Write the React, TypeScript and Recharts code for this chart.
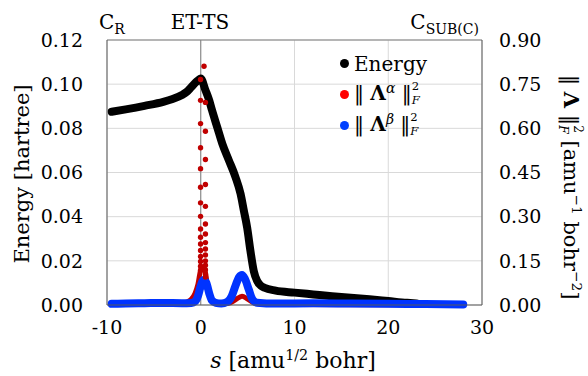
import { ComposedChart, Line, XAxis, YAxis, CartesianGrid, ReferenceLine } from 'recharts'

// energy along the IRC (left axis, hartree)
const energyS = [-9.5, -8, -6, -4, -3, -2, -1.5, -1, -0.5, -0.2, 0, 0.5, 0.9, 1.2, 1.75, 2.3, 3, 3.7, 4.25, 4.6, 4.95, 5.3, 5.65, 6, 6.4, 6.8, 8, 10, 12, 14, 16, 18, 20, 22, 23]
const energyE = [0.0875, 0.0886, 0.0902, 0.092, 0.0933, 0.0951, 0.0965, 0.0987, 0.101, 0.102, 0.1026, 0.0973, 0.0927, 0.0882, 0.0806, 0.073, 0.0655, 0.058, 0.0503, 0.0427, 0.035, 0.0245, 0.0155, 0.011, 0.0088, 0.0078, 0.0065, 0.0056, 0.0048, 0.004, 0.0033, 0.0026, 0.0018, 0.001, 0.0007]

// ||Lambda^alpha||_F^2 (right axis), dense part
const alphaS = [-9.5, -5, -3, -2, -1.5, -1, -0.6, -0.3, 0, 0.25, 0.5, 0.8, 1.1, 1.5, 2, 3, 3.7, 4.4, 5, 5.6, 6.5, 10, 20, 28]
const alphaV = [0.002, 0.003, 0.003, 0.006, 0.01, 0.02, 0.04, 0.07, 0.12, 0.13, 0.11, 0.05, 0.02, 0.008, 0.005, 0.006, 0.018, 0.03, 0.02, 0.008, 0.003, 0.002, 0.001, 0.001]

// ||Lambda^alpha||_F^2, the sparse points of the spike near the TS
const alphaDotS = [0.35, -0.02, 0.5, -0.02, 0.5, -0.02, 0.5, -0.02, 0.5, -0.02, 0.5, -0.02, -0.02, 0.5, -0.02, 0.5, -0.02, 0.5, -0.02, 0.5, -0.02, 0.5, -0.02, 0.5, -0.02, 0.5, -0.02, 0.5, -0.02, 0.5, -0.02, 0.5]
const alphaDotV = [0.811, 0.766, 0.688, 0.695, 0.59, 0.616, 0.494, 0.534, 0.409, 0.463, 0.335, 0.4, 0.347, 0.275, 0.301, 0.241, 0.258, 0.212, 0.23, 0.19, 0.207, 0.17, 0.185, 0.15, 0.165, 0.135, 0.148, 0.12, 0.132, 0.105, 0.118, 0.095]

// ||Lambda^beta||_F^2 (right axis)
const betaS = [-9.5, -8, -6, -4, -2, -1, -0.6, -0.3, 0, 0.3, 0.6, 0.9, 1.2, 1.6, 2.2, 2.8, 3.3, 3.7, 4.1, 4.4, 4.7, 5.1, 5.5, 6, 8, 12, 16, 20, 24, 28]
const betaV = [0.004, 0.005, 0.006, 0.007, 0.006, 0.007, 0.012, 0.03, 0.065, 0.085, 0.075, 0.04, 0.015, 0.007, 0.005, 0.01, 0.03, 0.065, 0.095, 0.102, 0.09, 0.055, 0.02, 0.008, 0.005, 0.006, 0.005, 0.004, 0.003, 0.002]

const xTicks = [-10, 0, 10, 20, 30]
const eTicks = [0, 0.02, 0.04, 0.06, 0.08, 0.1, 0.12]
const lTicks = [0, 0.15, 0.3, 0.45, 0.6, 0.75, 0.9]

const energyData = energyS.map((s, i) => ({ s, e: energyE[i] }))
const alphaData = alphaS.map((s, i) => ({ s, v: alphaV[i] }))
const alphaDots = alphaDotS.map((s, i) => ({ s, v: alphaDotV[i] }))
const betaData = betaS.map((s, i) => ({ s, v: betaV[i] }))

const FONT = '"DejaVu Serif", serif'

function Norm({ sup }: { sup?: string }) {
  return (
    <span style={{ whiteSpace: 'nowrap' }}>
      ‖ <b>Λ</b>
      {sup && <span style={{ fontStyle: 'italic', fontSize: '0.7em', position: 'relative', top: '-0.5em' }}>{sup}</span>}
      {' '}‖
      <span style={{ display: 'inline-block', verticalAlign: 'middle', lineHeight: 1.2, fontSize: '0.58em', textAlign: 'left', position: 'relative', top: '-0.05em' }}>
        <span style={{ display: 'block' }}>2</span>
        <span style={{ display: 'block', fontStyle: 'italic' }}>F</span>
      </span>
    </span>
  )
}

function LegendRow({ color, children }: { color: string; children: any }) {
  return (
    <div style={{ display: 'flex', alignItems: 'center', height: 31 }}>
      <span style={{ width: 9, height: 9, borderRadius: 5, background: color, marginRight: 5, flex: 'none' }} />
      {children}
    </div>
  )
}

export default function App() {
  return (
    <div style={{ position: 'absolute', left: 0, top: 0, width: 588, height: 376, background: '#fff', fontFamily: FONT, color: '#000' }}>
      <ComposedChart width={588} height={376} margin={{ top: 40, right: 46, bottom: 41, left: 47 }}>
        <CartesianGrid yAxisId="e" stroke="#d9d9d9" />
        <XAxis
          type="number"
          dataKey="s"
          domain={[-10, 30]}
          ticks={xTicks}
          allowDataOverflow
          height={30}
          tickLine={false}
          tickMargin={10}
          axisLine={{ stroke: '#595959' }}
          tick={{ fontSize: 19, fill: '#000', fontFamily: FONT }}
        />
        <YAxis
          yAxisId="e"
          domain={[0, 0.12]}
          ticks={eTicks}
          width={60}
          tickLine={false}
          tickMargin={18}
          tickFormatter={(v: number) => v.toFixed(2)}
          axisLine={{ stroke: '#595959' }}
          tick={{ fontSize: 19, fill: '#000', fontFamily: FONT }}
        />
        <YAxis
          yAxisId="l"
          orientation="right"
          domain={[0, 0.9]}
          ticks={lTicks}
          width={60}
          tickLine={false}
          tickMargin={11}
          tickFormatter={(v: number) => v.toFixed(2)}
          axisLine={{ stroke: '#595959' }}
          tick={{ fontSize: 19, fill: '#000', fontFamily: FONT }}
        />
        <ReferenceLine yAxisId="e" y={0.12} stroke="#7f7f7f" />
        <ReferenceLine yAxisId="e" x={0} stroke="#7f7f7f" />
        <Line
          yAxisId="e"
          data={energyData}
          dataKey="e"
          type="monotone"
          stroke="#000"
          strokeWidth={8}
          strokeLinecap="round"
          dot={false}
          isAnimationActive={false}
        />
        <Line
          yAxisId="l"
          data={alphaData}
          dataKey="v"
          type="monotone"
          stroke="#c00000"
          strokeWidth={5}
          strokeLinecap="round"
          dot={false}
          isAnimationActive={false}
        />
        <Line
          yAxisId="l"
          data={alphaDots}
          dataKey="v"
          stroke="none"
          dot={{ r: 2.7, fill: '#c00000', stroke: 'none' }}
          isAnimationActive={false}
        />
        <Line
          yAxisId="l"
          data={betaData}
          dataKey="v"
          type="monotone"
          stroke="#0033ff"
          strokeWidth={8}
          strokeLinecap="round"
          dot={false}
          isAnimationActive={false}
        />
      </ComposedChart>

      {/* labels above the plot */}
      <div style={{ position: 'absolute', left: 99, top: 12, fontSize: 20, lineHeight: 1 }}>
        C<sub style={{ fontSize: '0.7em' }}>R</sub>
      </div>
      <div style={{ position: 'absolute', left: 150, width: 100, top: 12, fontSize: 20, lineHeight: 1, textAlign: 'center' }}>
        ET-TS
      </div>
      <div style={{ position: 'absolute', right: 588 - 479, top: 12, fontSize: 20, lineHeight: 1, textAlign: 'right' }}>
        C<sub style={{ fontSize: '0.7em' }}>SUB(C)</sub>
      </div>

      {/* legend */}
      <div style={{ position: 'absolute', left: 340, top: 48, fontSize: 20, lineHeight: 1 }}>
        <LegendRow color="#000">Energy</LegendRow>
        <LegendRow color="#ff0000"><Norm sup="α" /></LegendRow>
        <LegendRow color="#0040ff"><Norm sup="β" /></LegendRow>
      </div>

      {/* axis titles */}
      <div style={{ position: 'absolute', left: 22, top: 174, transform: 'translate(-50%, -50%) rotate(-90deg)', whiteSpace: 'nowrap', fontSize: 21, lineHeight: 1 }}>
        Energy [hartree]
      </div>
      <div style={{ position: 'absolute', left: 569, top: 187, transform: 'translate(-50%, -50%) rotate(90deg)', whiteSpace: 'nowrap', fontSize: 21, lineHeight: 1 }}>
        <Norm /> [amu<sup style={{ fontSize: '0.65em' }}>−1</sup> bohr<sup style={{ fontSize: '0.65em' }}>−2</sup>]
      </div>
      <div style={{ position: 'absolute', left: 293, top: 348, transform: 'translateX(-50%)', whiteSpace: 'nowrap', fontSize: 22, lineHeight: 1 }}>
        <i>s</i> [amu<sup style={{ fontSize: '0.65em' }}>1/2</sup> bohr]
      </div>
    </div>
  )
}
